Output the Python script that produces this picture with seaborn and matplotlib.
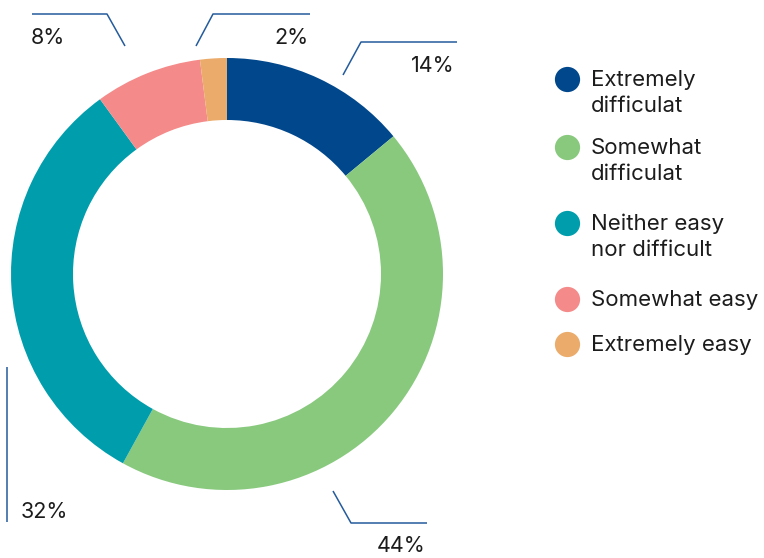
import matplotlib
matplotlib.use("Agg")
import matplotlib.pyplot as plt
import seaborn as sns

sns.set_theme(style="white")
plt.rcParams["font.family"] = ["Inter", "DejaVu Sans"]

# Survey responses (share of respondents, %)
categories = ["Extremely\ndifficulat", "Somewhat\ndifficulat", "Neither easy\nnor difficult",
              "Somewhat easy", "Extremely easy"]
shares = [14, 44, 32, 8, 2]
value_labels = ["14%", "44%", "32%", "8%", "2%"]
colors = ["#01478c", "#88c97e", "#009dad", "#f48a89", "#ebab6a"]

W, H = 764, 558
fig = plt.figure(figsize=(W / 100, H / 100), dpi=100)
ax = fig.add_axes([0, 0, 1, 1])

def Y(py):
    return H - py

cx, cy, R = 227, 274, 216
ax.pie(shares, colors=colors, startangle=90, counterclock=False,
       center=(cx, Y(cy)), radius=R, frame=True,
       wedgeprops=dict(width=62, linewidth=0))
ax.set_xlim(0, W)
ax.set_ylim(0, H)
ax.set_aspect("equal")
ax.axis("off")

line_kw = dict(color="#245b9c", lw=1.1, solid_capstyle="butt")
text_kw = dict(color="#1c1c1c", fontsize=15.5, va="center")

# Leader lines and value labels
leaders = [
    ([343, 361, 457], [75, 42, 42], 455, 66, "right"),     # 14%
    ([333, 351, 427], [491, 523, 523], 426, 546, "right"),  # 44%
    ([7, 7], [367, 522], 21, 512, "left"),                  # 32%
    ([125, 107, 32], [46, 14, 14], 31, 38, "left"),         # 8%
    ([196, 213, 310], [46, 14, 14], 309, 38, "right"),      # 2%
]
for (xs, ys, tx, ty, ha), lab in zip(leaders, value_labels):
    ax.plot(xs, [Y(v) for v in ys], **line_kw)
    ax.text(tx, Y(ty), lab, ha=ha, **text_kw)

# Legend
legend_y = [79, 147, 223, 299, 344]
for lab, col, ly in zip(categories, colors, legend_y):
    ax.scatter([567], [Y(ly)], s=330, color=col, linewidths=0)
    for i, t in enumerate(lab.split("\n")):
        ax.text(591, Y(ly + 1 + i * 26), t, ha="left", va="center",
                color="#1c1c1c", fontsize=16)

fig.savefig("out.png", dpi=100)
